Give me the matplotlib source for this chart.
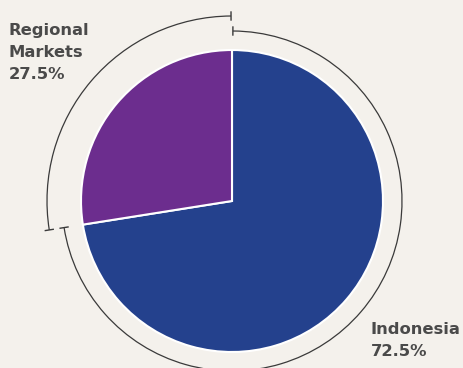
import numpy as np
import matplotlib.pyplot as plt
from matplotlib.patches import Arc

# Data
labels = ["Indonesia", "Regional Markets"]
shares = [72.5, 27.5]
label_text = ["Indonesia\n72.5%", "Regional\nMarkets\n27.5%"]
colors = ["#24418D", "#6C2D8E"]

bg = "#F4F1EC"
W, H = 463, 368

fig = plt.figure(figsize=(W / 100, H / 100), dpi=100, facecolor=bg)
ax = fig.add_axes([0, 0, 1, 1])
ax.set_facecolor(bg)

cx, cy, r = 232, H - 201, 151
ax.pie(shares, colors=colors, startangle=90, counterclock=False,
       center=(cx, cy), radius=r,
       wedgeprops=dict(edgecolor="white", linewidth=1.5))

# outer arcs with end ticks
split = 90 - 360 * shares[0] / 100
arc_specs = [(170, split, 90 - 0.3), (185, 90 + 0.3, 360 + split)]
for rad, t1, t2 in arc_specs:
    ax.add_patch(Arc((cx, cy), 2 * rad, 2 * rad, theta1=t1, theta2=t2,
                     color="#3a3a3a", lw=0.9))
    for t in (t1, t2):
        a = np.deg2rad(t)
        ax.plot([cx + (rad - 4) * np.cos(a), cx + (rad + 4) * np.cos(a)],
                [cy + (rad - 4) * np.sin(a), cy + (rad + 4) * np.sin(a)],
                color="#3a3a3a", lw=1.0)

ax.text(9, H - 23, label_text[1], ha="left", va="top", fontsize=11.8,
        fontweight="bold", color="#4a4a4a", linespacing=1.6)
ax.text(371, H - 322, label_text[0], ha="left", va="top", fontsize=11.8,
        fontweight="bold", color="#4a4a4a", linespacing=1.6)

ax.set_xlim(0, W)
ax.set_ylim(0, H)
ax.set_aspect("auto")
ax.axis("off")

fig.savefig("out.png", dpi=100, facecolor=bg)
